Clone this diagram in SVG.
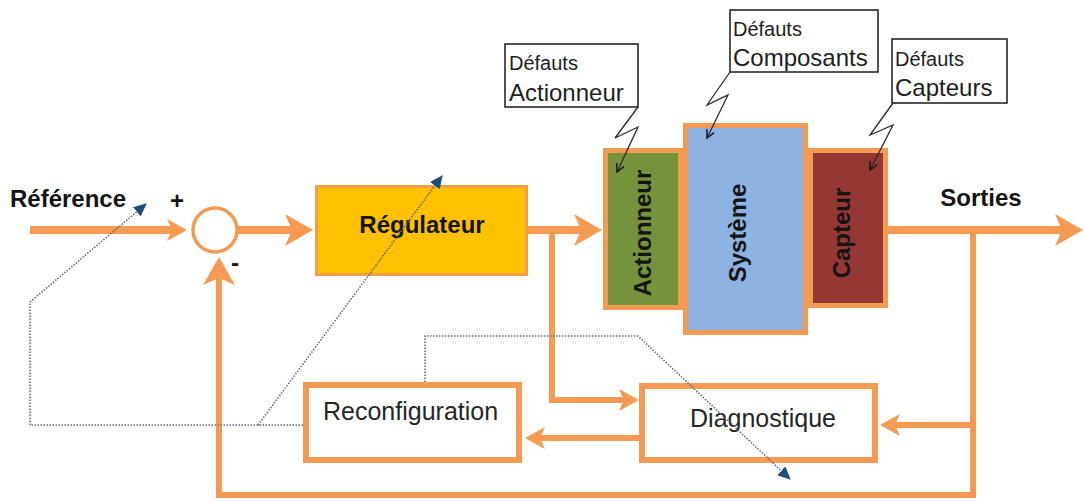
<svg xmlns="http://www.w3.org/2000/svg" width="1084" height="502" viewBox="0 0 1084 502">
  <style>
    .flow { fill: none; stroke: #F59A52; stroke-linejoin: miter; }
    .w8 { stroke-width: 8; }
    .w6 { stroke-width: 6; }
    .dot { fill: none; stroke: #5F6B78; stroke-width: 1.6; stroke-dasharray: 1.5 1.5; }
    .bolt { fill: none; stroke: #2B2B2B; stroke-width: 1.3; }
    .block { stroke: #F59A52; stroke-width: 5; }
    .frame { fill: #FFFFFF; stroke: #F59A52; stroke-width: 6; }
    .note { fill: #FFFFFF; stroke: #1A1A1A; stroke-width: 1.5; }
    .lbl { font-family: "Liberation Sans", Arial, sans-serif; font-weight: bold; font-size: 24px; fill: #141414; }
    .txt { font-family: "Liberation Sans", Arial, sans-serif; font-size: 25px; fill: #262626; }
    .n1 { font-family: "Liberation Sans", Arial, sans-serif; font-size: 20px; fill: #1E1E1E; }
    .n2 { font-family: "Liberation Sans", Arial, sans-serif; font-size: 24px; fill: #1E1E1E; }
  </style>
  <defs>
    <marker id="headL" markerUnits="userSpaceOnUse" markerWidth="28" markerHeight="32" refX="7" refY="16" orient="auto">
      <path d="M0,0 L28,16 L0,32 L7,16 z" fill="#F59A52"/>
    </marker>
    <marker id="headM" markerUnits="userSpaceOnUse" markerWidth="20" markerHeight="22" refX="5" refY="11" orient="auto">
      <path d="M0,0 L20,11 L0,22 L5,11 z" fill="#F59A52"/>
    </marker>
    <marker id="headBlue" markerUnits="userSpaceOnUse" markerWidth="13" markerHeight="12" refX="12" refY="6" orient="auto">
      <path d="M0,0 L13,6 L0,12 z" fill="#1F4E79"/>
    </marker>
    <marker id="headBolt" markerUnits="userSpaceOnUse" markerWidth="10" markerHeight="10" refX="9" refY="5" orient="auto">
      <path d="M1,1 L9,5 L1,9" fill="none" stroke="#1A1A1A" stroke-width="1.5"/>
    </marker>
  </defs>

  <!-- signal flow lines -->
  <g id="connectors">
    <path class="flow w8" d="M30,230 H172" marker-end="url(#headM)"/>
    <path class="flow w8" d="M237,230 H292" marker-end="url(#headL)"/>
    <path class="flow w8" d="M528,230 H581" marker-end="url(#headL)"/>
    <path class="flow w6" d="M552,230 V400 H624" marker-end="url(#headM)"/>
    <path class="flow w8" d="M888,230 H1062" marker-end="url(#headL)"/>
    <path class="flow w6" d="M973,230 V495 H219 V278" marker-end="url(#headL)"/>
    <path class="flow w6" d="M973,425 H895" marker-end="url(#headM)"/>
    <path class="flow w6" d="M639,438 H540" marker-end="url(#headM)"/>
  </g>

  <g id="reference">
    <text class="lbl" x="10" y="207">Référence</text>
    <text class="lbl" x="177" y="209" text-anchor="middle" font-size="20">+</text>
  </g>

  <g id="comparateur">
    <circle cx="215" cy="230" r="22" fill="#FFFFFF" stroke="#F59A52" stroke-width="3.5"/>
    <text class="lbl" x="235" y="271" text-anchor="middle" font-size="20">-</text>
  </g>

  <g id="regulateur">
    <rect x="316.5" y="186.5" width="210" height="88" fill="#FFC000" stroke="#F0A040" stroke-width="3"/>
    <text class="lbl" x="422" y="233" text-anchor="middle">Régulateur</text>
  </g>

  <g id="actionneur">
    <rect class="block" x="605.5" y="150.5" width="75" height="157" fill="#76923C"/>
    <text class="lbl" transform="translate(651,233) rotate(-90)" text-anchor="middle" fill="#1E2A0C">Actionneur</text>
  </g>

  <g id="capteur">
    <rect class="block" x="810.5" y="150.5" width="75" height="155" fill="#953735"/>
    <text class="lbl" transform="translate(850,233) rotate(-90)" text-anchor="middle" fill="#2E0C0C">Capteur</text>
  </g>

  <g id="systeme">
    <rect class="block" x="685.5" y="125.5" width="120" height="207" fill="#8DB3E2"/>
    <text class="lbl" transform="translate(746,233) rotate(-90)" text-anchor="middle" fill="#1F3864">Système</text>
  </g>

  <g id="sorties">
    <text class="lbl" x="981" y="206" text-anchor="middle">Sorties</text>
  </g>

  <g id="reconfiguration">
    <rect class="frame" x="306" y="385" width="213" height="75"/>
    <text class="txt" x="323" y="420">Reconfiguration</text>
  </g>

  <g id="diagnostique">
    <rect class="frame" x="642" y="386" width="233" height="74"/>
    <text class="txt" x="763" y="427" text-anchor="middle">Diagnostique</text>
  </g>

  <g id="defauts-actionneur">
    <rect class="note" x="505" y="44" width="133" height="63"/>
    <text class="n1" x="509" y="70">Défauts</text>
    <text class="n2" x="509" y="101">Actionneur</text>
  </g>

  <g id="defauts-composants">
    <rect class="note" x="730" y="10" width="148" height="62"/>
    <text class="n1" x="733" y="36">Défauts</text>
    <text class="n2" x="733" y="66">Composants</text>
  </g>

  <g id="defauts-capteurs">
    <rect class="note" x="892" y="39" width="115" height="64"/>
    <text class="n1" x="895" y="66">Défauts</text>
    <text class="n2" x="895" y="96">Capteurs</text>
  </g>

  <!-- reconfiguration signals and fault strikes, drawn over the blocks -->
  <g id="overlay-connectors">
    <path class="dot" d="M303,425 H30 V302 L146,204" marker-end="url(#headBlue)"/>
    <path class="dot" d="M258,425 L442,176" marker-end="url(#headBlue)"/>
    <path class="dot" d="M425,382 V336 H638 L790,479" marker-end="url(#headBlue)"/>

    <path class="bolt" d="M638,107 L615,138 L638,127 L617,172" marker-end="url(#headBolt)"/>
    <path class="bolt" d="M730,72 L707,105 L728,95 L707,138" marker-end="url(#headBolt)"/>
    <path class="bolt" d="M893,103 L870,135 L893,125 L870,170" marker-end="url(#headBolt)"/>
  </g>
</svg>
